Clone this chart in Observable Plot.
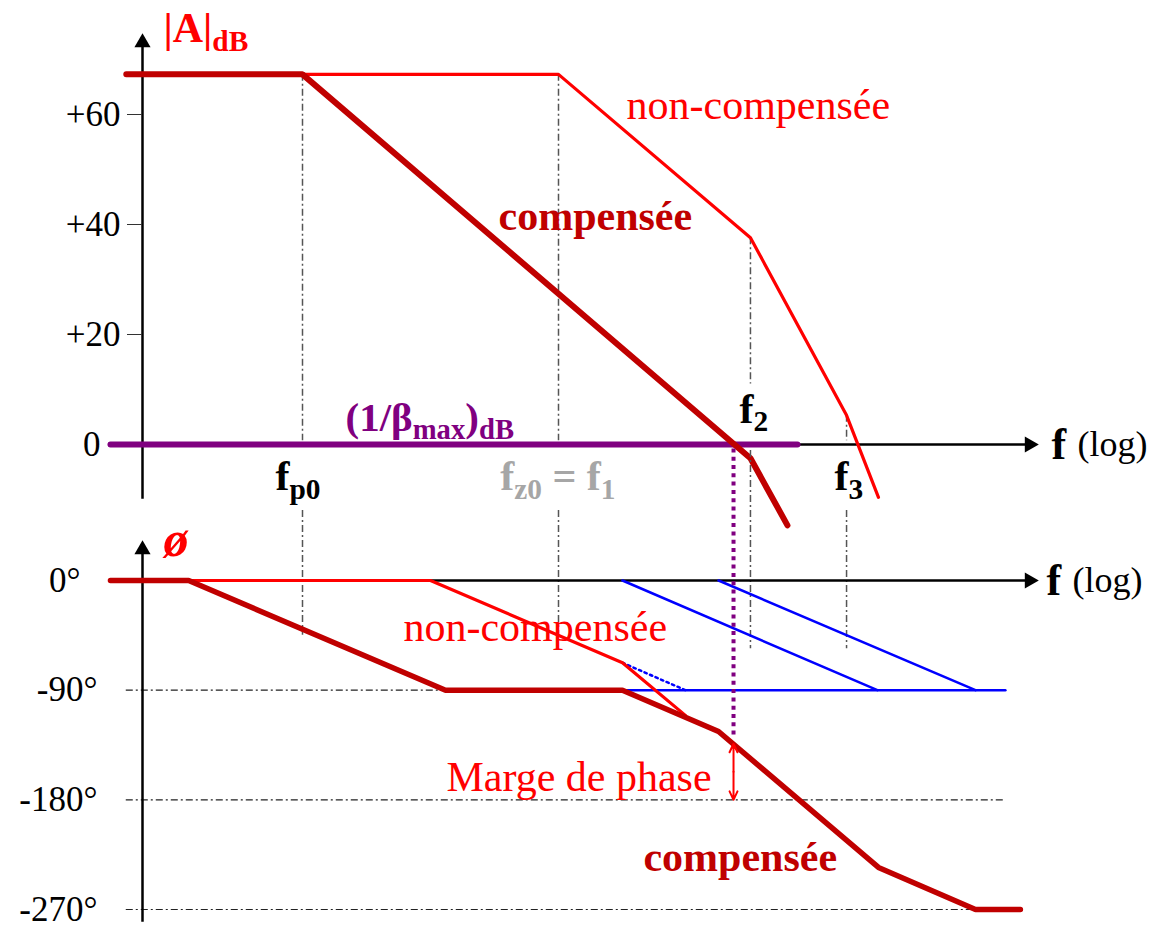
<!DOCTYPE html>
<html>
<head>
<meta charset="utf-8">
<script src="https://cdn.jsdelivr.net/npm/d3@7"></script>
<script src="https://cdn.jsdelivr.net/npm/@observablehq/plot@0.6"></script>
<style>
  body { margin: 0; background: #fff; }
  #chart { position: relative; width: 1151px; height: 927px; background: #fff; }
  #chart svg { position: absolute; left: 0; top: 0; }
</style>
</head>
<body>
<div id="chart"></div>
<script>
// Bode diagram of an op-amp, before and after pole compensation

const W = 1151, H = 927;
const FONT = "'Liberation Serif', 'Times New Roman', Times, serif";
const DARK = "#c00000", RED = "#ff0000", PURPLE = "#800080", BLUE = "#0000ff", GUIDE = "#555555", GREY = "#a6a6a6";
const DASHDOT = "7,3,2,3";

// shared logarithmic frequency axis (Hz)
const freqScale = {type: "log", domain: [1, 1e8], range: [46, 1070], axis: null};

// characteristic frequencies (Hz)
const fp0 = 100, fz0 = 10000, f2 = 316000, f3 = 1780000;
const fCross = 233000;          // compensated gain crosses 1/beta_max

// magnitude (dB) — compensated
const magCompF  = [4.2, 100, 316000, 615000];
const magCompDb = [67.3, 67.3, -2.5, -14.7];
// magnitude (dB) — non-compensated
const magOpenF  = [4.2, 10000, 316000, 1780000, 3160000];
const magOpenDb = [67.3, 67.3, 37.6, 5.3, -9.6];
// feedback level 1/beta_max (dB)
const betaF  = [3.16, 736000];
const betaDb = [0, 0];

// phase (deg) — compensated
const phCompF   = [3.16, 12.9, 1310, 31600, 178000, 3160000, 18100000, 40600000];
const phCompDeg = [0, 0, -90, -90, -123.9, -235.5, -270, -270];
// phase (deg) — non-compensated
const phOpenF   = [12.9, 1000, 31600, 98000];
const phOpenDeg = [0, 0, -67.5, -110.7];
// single-pole phase contributions
const poleTailF = [31600, 98000],    poleTailDeg = [-67.5, -90];
const poleFlatF = [31600, 31000000], poleFlatDeg = [-90, -90];
const pole2F    = [31600, 3100000],  pole2Deg    = [0, -90];
const pole3F    = [178000, 18100000], pole3Deg   = [0, -90];
const phaseAtCross = -134;

// axes
const magTicks = [20, 40, 60];
const magZero = [0];
const phaseTicks = [-90, -180, -270];
const phaseZero = [0];
const phaseGrid = [-90, -180, -270];
const gridF = [4.2, 31000000];

// vertical guides at the break frequencies
const guideF = [fp0, fz0, f2, f3];
const guideMagTop = [67.3, 67.3, 37.6, 5.3];
const guideMagBottom = [0.7, 0.7, 11, 0.7];
const guidePhaseTop = [57.4, 57.4, 106.7, 57.4];
const guidePhaseBottom = [-45, -45, -56, -56];

function label(text, x, y, opts) {
  return Plot.text([{text, x, y}], {x: "x", y: "y", text: "text", textAnchor: "start", ...opts});
}

const common = {
  width: W, height: H,
  marginLeft: 142, marginRight: 122,
  x: freqScale,
  style: {background: "transparent", fontFamily: FONT, overflow: "visible", color: "black"}
};

const magPlot = Plot.plot({
  ...common,
  marginTop: 42, marginBottom: 430,
  y: {domain: [0, 60], range: [444, 114]},
  marks: [
    Plot.ruleX(guideF, {x: d => d, y1: guideMagTop, y2: guideMagBottom, stroke: GUIDE, strokeWidth: 1.5, strokeDasharray: DASHDOT}),
    Plot.frame({anchor: "left", stroke: "black", strokeWidth: 2.5}),
    Plot.dot([0], {frameAnchor: "top-left", symbol: "triangle", r: 6, fill: "black"}),
    Plot.ruleY([0], {stroke: "black", strokeWidth: 2.5}),
    Plot.dot([0], {y: d => d, frameAnchor: "right", symbol: "triangle", rotate: 90, r: 6, fill: "black"}),
    Plot.axisY({ticks: magTicks, tickFormat: d => `+${d}`, tickSize: 15, tickPadding: 7, fontSize: 35, label: null, stroke: "#333"}),
    Plot.axisY({ticks: magZero, tickFormat: d => `${d}`, tickSize: 0, tickPadding: 42, fontSize: 35, label: null}),
    Plot.line(magOpenF, {x: magOpenF, y: magOpenDb, stroke: RED, strokeWidth: 3.2, strokeLinejoin: "miter"}),
    Plot.line(betaF, {x: betaF, y: betaDb, stroke: PURPLE, strokeWidth: 6}),
    Plot.line(magCompF, {x: magCompF, y: magCompDb, stroke: DARK, strokeWidth: 6, strokeLinejoin: "miter"}),
    label("|A|_{dB}", 8.2, 75.6, {fill: RED, fontWeight: "bold", fontSize: 42}),
    label("non-compensée", 34000, 61.7, {fill: RED, fontSize: 42}),
    label("compensée", 3400, 41.5, {fill: DARK, fontWeight: "bold", fontSize: 42}),
    label("(1/β_{max})_{dB}", 217, 4.85, {fill: PURPLE, fontWeight: "bold", fontSize: 41}),
    label("f_{2}", 259000, 6.4, {fill: "black", fontWeight: "bold", fontSize: 42}),
    label("f_{p0}", 61.5, -5.9, {fill: "black", fontWeight: "bold", fontSize: 42}),
    label("f_{z0} = f_{1}", 3500, -5.9, {fill: GREY, fontWeight: "bold", fontSize: 42}),
    label("f_{3}", 1430000, -5.9, {fill: "black", fontWeight: "bold", fontSize: 42}),
    Plot.text([0], {y: d => d, frameAnchor: "right", text: () => "f", textAnchor: "start", dx: 22, fontWeight: "bold", fontSize: 44}),
    Plot.text([0], {y: d => d, frameAnchor: "right", text: () => "(log)", textAnchor: "start", dx: 48, fontSize: 36})
  ]
});

const phasePlot = Plot.plot({
  ...common,
  marginTop: 549, marginBottom: 7,
  y: {domain: [0, -270], range: [580, 909]},
  marks: [
    Plot.ruleY(phaseGrid, {x1: gridF[0], x2: gridF[1], stroke: "#222", strokeWidth: 1.2, strokeDasharray: DASHDOT}),
    Plot.ruleX(guideF, {x: d => d, y1: guidePhaseTop, y2: guidePhaseBottom, stroke: GUIDE, strokeWidth: 1.5, strokeDasharray: DASHDOT}),
    Plot.frame({anchor: "left", stroke: "black", strokeWidth: 2.5}),
    Plot.dot([0], {frameAnchor: "top-left", symbol: "triangle", r: 6, fill: "black"}),
    Plot.ruleY([0], {stroke: "black", strokeWidth: 2.5}),
    Plot.dot([0], {y: d => d, frameAnchor: "right", symbol: "triangle", rotate: 90, r: 6, fill: "black"}),
    Plot.axisY({ticks: phaseTicks, tickFormat: d => `${d}°`, tickSize: 0, tickPadding: 45, fontSize: 35, label: null}),
    Plot.axisY({ticks: phaseZero, tickFormat: d => `${d}°`, tickSize: 0, tickPadding: 62, fontSize: 35, label: null}),
    Plot.line(poleFlatF, {x: poleFlatF, y: poleFlatDeg, stroke: BLUE, strokeWidth: 2.5}),
    Plot.line(pole2F, {x: pole2F, y: pole2Deg, stroke: BLUE, strokeWidth: 2.5}),
    Plot.line(pole3F, {x: pole3F, y: pole3Deg, stroke: BLUE, strokeWidth: 2.5}),
    Plot.line(poleTailF, {x: poleTailF, y: poleTailDeg, stroke: BLUE, strokeWidth: 2.5, strokeDasharray: "2.5,3.5"}),
    Plot.line(phOpenF, {x: phOpenF, y: phOpenDeg, stroke: RED, strokeWidth: 3.2, strokeLinejoin: "miter"}),
    Plot.line(phCompF, {x: phCompF, y: phCompDeg, stroke: DARK, strokeWidth: 5.5, strokeLinejoin: "miter"}),
    Plot.ruleX([fCross], {x: d => d, y1: 108, y2: phaseAtCross + 5, stroke: PURPLE, strokeWidth: 4, strokeDasharray: "4,4.3"}),
    Plot.arrow([{a: -157, b: phaseAtCross}, {a: -157, b: -180}], {x1: fCross, x2: fCross, y1: "a", y2: "b", stroke: RED, strokeWidth: 2, headLength: 11, headAngle: 50}),
    label("ø", 8.2, 33.6, {fill: RED, fontWeight: "bold", fontStyle: "italic", fontSize: 50}),
    label("non-compensée", 615, -38.2, {fill: RED, fontSize: 42}),
    label("Marge de phase", 157000, -161.3, {fill: RED, fontSize: 42, textAnchor: "end"}),
    label("compensée", 46100, -227.7, {fill: DARK, fontWeight: "bold", fontSize: 42}),
    Plot.text([0], {y: d => d, frameAnchor: "right", text: () => "f", textAnchor: "start", dx: 17, fontWeight: "bold", fontSize: 44}),
    Plot.text([0], {y: d => d, frameAnchor: "right", text: () => "(log)", textAnchor: "start", dx: 43, fontSize: 36})
  ]
});

const chart = document.getElementById("chart");
chart.append(magPlot, phasePlot);

// turn "_{...}" markup into lowered, smaller tspans
for (const svg of [magPlot, phasePlot]) {
  d3.select(svg).selectAll("text").each(function () {
    const content = this.textContent;
    if (!content.includes("_{")) return;
    const fs = parseFloat(getComputedStyle(this).fontSize) || 40;
    const shift = fs * 0.2;
    const parts = content.split(/(_\{[^}]*\})/).filter(p => p);
    this.textContent = "";
    let lowered = false;
    for (const p of parts) {
      const m = p.match(/^_\{(.*)\}$/);
      const ts = d3.select(this).append("tspan");
      if (m) {
        ts.text(m[1]).attr("font-size", fs * 0.7).attr("dy", lowered ? 0 : shift);
        lowered = true;
      } else {
        ts.text(p).attr("dy", lowered ? -shift : 0);
        lowered = false;
      }
    }
  });
}
</script>
</body>
</html>
